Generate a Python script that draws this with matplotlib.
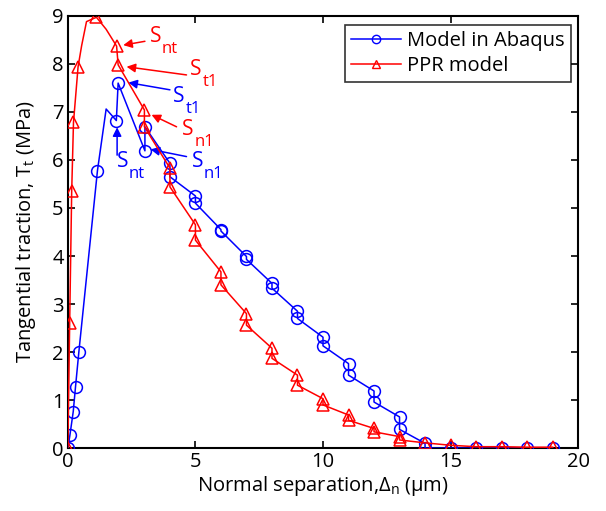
import matplotlib
matplotlib.use("Agg")
import matplotlib.pyplot as plt
from matplotlib.lines import Line2D

plt.rcParams['font.family'] = ['Open Sans', 'DejaVu Sans']
plt.rcParams['mathtext.fontset'] = 'custom'
plt.rcParams['mathtext.rm'] = 'Open Sans'
plt.rcParams['mathtext.it'] = 'Open Sans'

# Model in Abaqus (line path); markers drawn on all but the unmarked points
abaqus_x = [0, 0.08, 0.21, 0.3, 0.43, 1.16, 1.5, 1.9, 1.97, 3.02, 3.02, 4, 4, 5, 5, 6, 6, 7, 7,
            8, 8, 9, 9, 10, 10, 11, 11, 12, 12, 13, 13, 14, 14, 15, 16, 17, 18, 19]
abaqus_y = [0, 0.27, 0.76, 1.28, 2.0, 5.78, 7.06, 6.82, 7.6, 6.19, 6.69, 5.93, 5.65, 5.25, 5.1,
            4.55, 4.52, 3.99, 3.93, 3.43, 3.33, 2.85, 2.7, 2.31, 2.13, 1.76, 1.52, 1.19, 0.96,
            0.65, 0.39, 0.1, 0.0, 0.0, 0.0, 0.0, 0.0, 0.0]
abaqus_unmarked = [6]

# PPR model
ppr_x = [0, 0.07, 0.15, 0.22, 0.4, 0.54, 0.73, 1.12, 1.5, 1.91, 1.97, 3.0, 3.0, 4, 4, 5, 5, 6, 6,
         7, 7, 8, 8, 9, 9, 10, 10, 11, 11, 12, 12, 13, 13, 14, 15, 16, 17, 18, 19]
ppr_y = [0, 2.6, 5.35, 6.78, 7.94, 8.38, 8.88, 8.97, 8.72, 8.37, 7.98, 7.04, 6.69, 5.83, 5.44,
         4.65, 4.33, 3.67, 3.4, 2.8, 2.56, 2.08, 1.87, 1.52, 1.31, 1.03, 0.9, 0.69, 0.58, 0.41,
         0.34, 0.24, 0.17, 0.11, 0.06, 0.03, 0.03, 0.02, 0.02]
ppr_unmarked = [5, 6, 8]

# Annotations: (main, subscript, color, text x, text y, arrow head x, head y, tail x, tail y)
annots = [
    ("S", "nt", "red", 3.2, 8.56, 2.17, 8.39, 3.02, 8.47),
    ("S", "t1", "red", 4.8, 7.88, 2.3, 7.94, 4.65, 7.77),
    ("S", "n1", "red", 4.46, 6.63, 3.28, 6.94, 4.26, 6.69),
    ("S", "t1", "blue", 4.13, 7.32, 2.37, 7.61, 4.0, 7.46),
    ("S", "nt", "blue", 1.91, 5.96, 1.93, 6.68, 1.93, 6.1),
    ("S", "n1", "blue", 4.85, 5.96, 3.24, 6.22, 4.65, 6.07),
]

fig = plt.figure(figsize=(6.06, 5.11), dpi=100)
ax = fig.add_axes([0.112, 0.123, 0.842, 0.846])

mk_a = [i for i in range(len(abaqus_x)) if i not in abaqus_unmarked]
mk_p = [i for i in range(len(ppr_x)) if i not in ppr_unmarked]

ax.plot(abaqus_x, abaqus_y, color='blue', lw=1.1, marker='o', markersize=8.5,
        markerfacecolor='none', markeredgewidth=1.1, markevery=mk_a, zorder=3)
ax.plot(ppr_x, ppr_y, color='red', lw=1.1, marker='^', markersize=9,
        markerfacecolor='none', markeredgewidth=1.1, markevery=mk_p, zorder=4)

for main, sub, col, tx, ty, hx, hy, sx, sy in annots:
    ax.annotate("", xy=(hx, hy), xytext=(sx, sy),
                arrowprops=dict(arrowstyle='-|>', color=col, lw=1.1,
                                mutation_scale=13, shrinkA=0, shrinkB=0))
    ax.text(tx, ty, main, color=col, fontsize=15, va='center', ha='left')
    ax.annotate(sub, xy=(tx, ty), xytext=(9, -9), textcoords='offset points',
                color=col, fontsize=12, va='center', ha='left')

ax.set_xlim(0, 20)
ax.set_ylim(0, 9)
ax.set_xticks([0, 5, 10, 15, 20])
ax.set_yticks(range(10))
ax.tick_params(direction='in', top=True, right=True, length=5, width=1.2,
               labelsize=14.5, pad=3)
for s in ax.spines.values():
    s.set_linewidth(1.5)

ax.set_xlabel(r"Normal separation,$\Delta_{\mathrm{n}}$ ($\mathrm{\mu}$m)", fontsize=14.5, labelpad=1)
ax.set_ylabel(r"Tangential traction, T$_{\mathrm{t}}$ (MPa)", fontsize=14.5, labelpad=10)

handles = [
    Line2D([], [], color='blue', lw=1.1, marker='o', markersize=6, markerfacecolor='none'),
    Line2D([], [], color='red', lw=1.1, marker='^', markersize=6, markerfacecolor='none'),
]
leg = ax.legend(handles, ["Model in Abaqus", "PPR model"], loc='upper right',
                fontsize=14.5, frameon=True, fancybox=False, edgecolor='black',
                bbox_to_anchor=(0.986, 0.979), borderaxespad=0,
                handlelength=2.5, labelspacing=0.25, borderpad=0.3,
                handletextpad=0.3)
leg.get_frame().set_linewidth(1.2)

fig.savefig("out.png", dpi=100)
